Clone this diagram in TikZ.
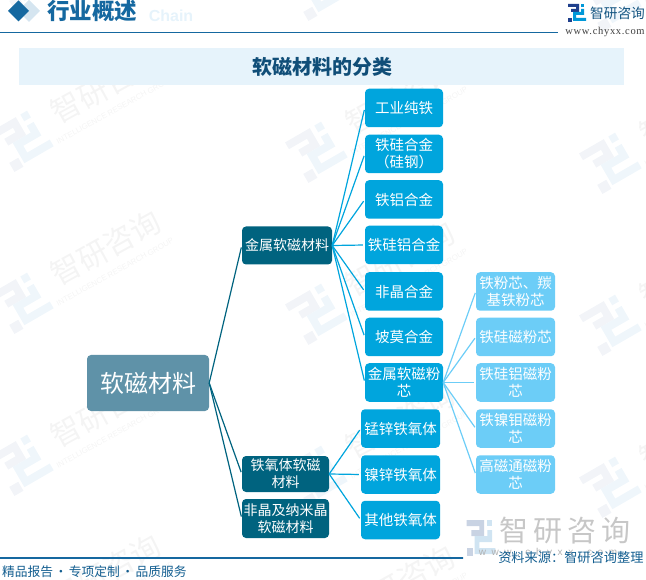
\documentclass[tikz,border=0pt]{standalone}
\usepackage{fontspec}
\setmainfont{Noto Sans CJK SC}
\newfontfamily\latinsans{Liberation Sans}
\newfontfamily\latinserif[LetterSpace=6.5]{Liberation Serif}
\usetikzlibrary{calc}
\definecolor{rootblue}{HTML}{5F92A8}
\definecolor{darkblue}{HTML}{00637F}
\definecolor{midblue}{HTML}{00A5DD}
\definecolor{lightblue}{HTML}{6CCDF7}
\definecolor{headblue}{HTML}{1568A0}
\definecolor{bandblue}{HTML}{E6F3FB}
\definecolor{paleblue}{HTML}{D5E5F0}
\definecolor{wmgrey}{HTML}{F4F4F4}
\definecolor{wmleft}{HTML}{F2F4F8}
\definecolor{wmright}{HTML}{EFF6FB}
\definecolor{navylogo}{HTML}{1F3F8C}
\definecolor{skylogo}{HTML}{0098D8}
\definecolor{greylogo}{HTML}{C9D3E3}
\definecolor{icelogo}{HTML}{D0E4F2}
\def\boxfont{\fontsize{14.5}{17}\selectfont}
\tikzset{
	x=1pt, y=-1pt,
	box/.style={rounded corners=4pt, inner sep=0pt, align=center, text=white, font=\boxfont},
	rootbox/.style={box, fill=rootblue, minimum width=122pt, minimum height=56pt, font=\fontsize{24}{28}\selectfont},
	groupbox/.style={box, fill=darkblue, minimum width=87pt, minimum height=38pt, font=\fontsize{14}{17}\selectfont},
	itembox/.style={box, fill=midblue, minimum width=78pt, minimum height=38.5pt},
	subbox/.style={box, fill=lightblue, minimum width=79pt, minimum height=38.5pt},
	darklink/.style={draw=darkblue, line width=1.2pt, shorten >=2pt},
	midlink/.style={draw=midblue, line width=1.2pt, shorten >=2pt},
	lightlink/.style={draw=lightblue, line width=1.2pt, shorten >=1.5pt},
	pics/logomark/.style 2 args={code={
		\fill[#1, shift={(-9,-9)}] (0,0) -- (11,0) -- (11,8) -- (3,8) -- (3,5) -- (8,5) -- (8,3) -- (0,3) -- cycle;
		\fill[#1, shift={(-9,-9)}] (0,14) rectangle (4,18);
		\fill[#2, shift={(-9,-9)}] (13,0) rectangle (16,3);
		\fill[#2, shift={(-9,-9)}] (13,5) -- (16,5) -- (16,11) -- (8,11) -- (8,14) -- (18,14) -- (18,17) -- (5,17) -- (5,8) -- (13,8) -- cycle;
	}}
}

\begin{document}
\begin{tikzpicture}
	\useasboundingbox (0,0) rectangle (646,580);
	%%%%% WATERMARK %%%%%
	\foreach \c in {0,1,2}
		\foreach \r in {0,1,2,3,4} {
			\pgfmathsetmacro{\wx}{23+294*\c}
			\pgfmathsetmacro{\wy}{-22+162*\r+11*\c}
			\pic[rotate=30, scale=2.6] at (\wx,\wy) {logomark={wmleft}{wmright}};
			\node[rotate=29, text=wmgrey, font=\fontsize{30}{30}\selectfont] (wmtext\c\r) at (\wx+83,\wy-54) {智研咨询};
			\node[rotate=29, text=wmgrey, font=\latinsans\fontsize{7.8}{8}\selectfont] (wmsub\c\r) at (\wx+92,\wy-30) {INTELLIGENCE RESEARCH GROUP};
		}

	%%%%% HEADER %%%%%
	\fill[paleblue] (29,0) -- (40,11) -- (29,22) -- (18,11) -- cycle;
	\fill[headblue] (18.5,0.5) -- (29,11) -- (18.5,21.5) -- (8,11) -- cycle;
	\node[text=bandblue, font=\latinsans\bfseries\fontsize{16}{16}\selectfont] (ghost) at (171,16) {Chain};
	\node[text=headblue, font=\bfseries\fontsize{22.5}{24}\selectfont] (headline) at (92,11) {行业概述};
	\draw[headblue, line width=1pt] (0,32.5) -- (558,32.5);
	\pic at (577,13) {logomark={navylogo}{skylogo}};
	\node[text=headblue!80!black, font=\fontsize{13.7}{14}\selectfont] (brand) at (617.5,13) {智研咨询};
	\node[text=black!75, font=\latinserif\fontsize{10.5}{11}\selectfont] (site) at (605,32) {www.chyxx.com};
	\fill[bandblue] (19,48) rectangle (624,85);
	\node[text=headblue!75!black, font=\bfseries\fontsize{20}{22}\selectfont] (title) at (322.5,67) {软磁材料的分类};

	%%%%% BOXES %%%%%
	\node[rootbox] (root) at (148,383) {软磁材料};

	\node[groupbox, minimum width=90pt] (metal) at (287,245.5) {金属软磁材料};
	\node[groupbox, minimum height=36pt] (ferrite) at (285.5,474) {铁氧体软磁\\材料};
	\node[groupbox, minimum height=39pt] (amorph) at (285.5,518.5) {非晶及纳米晶\\软磁材料};

	\node[itembox] (pure) at (404,108) {工业纯铁};
	\node[itembox] (fesi) at (404,154) {铁硅合金\\（硅钢）};
	\node[itembox] (feal) at (404,199.5) {铁铝合金};
	\node[itembox] (fesial) at (404,245) {铁硅铝合金};
	\node[itembox] (amalloy) at (404,291.5) {非晶合金};
	\node[itembox] (permalloy) at (404,337) {坡莫合金};
	\node[itembox] (powder) at (404,382.5) {金属软磁粉\\芯};

	\node[itembox, minimum width=79pt] (mnzn) at (400.5,428.5) {锰锌铁氧体};
	\node[itembox, minimum width=79pt] (nizn) at (400.5,474.5) {镍锌铁氧体};
	\node[itembox, minimum width=79pt] (other) at (400.5,520) {其他铁氧体};

	\node[subbox] (fecore) at (515.5,291.5) {铁粉芯、羰\\基铁粉芯};
	\node[subbox] (sicore) at (515.5,337) {铁硅磁粉芯};
	\node[subbox] (alcore) at (515.5,382.5) {铁硅铝磁粉\\芯};
	\node[subbox] (mocore) at (515.5,428.5) {铁镍钼磁粉\\芯};
	\node[subbox] (fluxcore) at (515.5,474.5) {高磁通磁粉\\芯};

	%%%%% LINKS %%%%%
	\foreach \child in {metal,ferrite,amorph}
		\draw[darklink] (root.east) -- (\child.west);
	\foreach \child in {pure,fesi,feal,fesial,amalloy,permalloy,powder}
		\draw[midlink] (metal.east) -- (\child.west);
	\foreach \child in {mnzn,nizn,other}
		\draw[midlink] (ferrite.east) -- (\child.west);
	\foreach \child in {fecore,sicore,alcore,mocore,fluxcore}
		\draw[lightlink] (powder.east) -- (\child.west);

	%%%%% FOOTER %%%%%
	\pic[xscale=1.6, yscale=2] at (481,538) {logomark={greylogo}{icelogo}};
	\node[text=black!22, font=\fontsize{29}{32}\selectfont] (bigbrand) at (565,531) {智\,研\,咨\,询};
	\node[text=black!30, font=\latinsans\fontsize{10}{10}\selectfont] (bigsite) at (548,553) {w\ \ w\ \ w\ \ .\ \ c\ \ h\ \ y\ \ x\ \ x\ \ .\ \ c\ \ o\ \ m};
	\shade[left color=headblue, middle color=headblue!35, right color=headblue] (0,557.5) rectangle (463,558.8);
	\node[text=headblue!90!black, anchor=east, font=\fontsize{13.2}{14}\selectfont] (source) at (647,558) {资料来源：智研咨询整理};
	\node[text=headblue!90!black, anchor=west, font=\fontsize{12.75}{14}\selectfont, inner sep=0pt] (slogan) at (2,572) {精品报告\hspace{1.5pt}·\hspace{1.5pt}专项定制\hspace{1.5pt}·\hspace{1.5pt}品质服务};
\end{tikzpicture}
\end{document}
